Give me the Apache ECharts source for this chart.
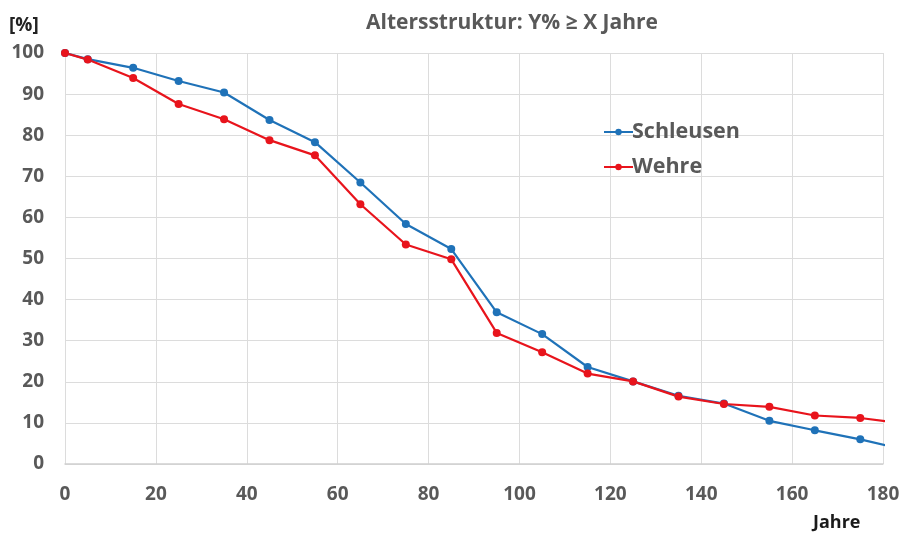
<!DOCTYPE html>
<html>
<head>
<meta charset="utf-8">
<script src="https://cdn.jsdelivr.net/npm/echarts@6/dist/echarts.min.js"></script>
<style>
  html, body { margin: 0; padding: 0; background: #fff; }
  #chart { width: 904px; height: 534px; }
</style>
</head>
<body>
<div id="chart"></div>
<script>
// Alter in Jahren (x) und Anteil in % (y)
const jahre = [0, 5, 15, 25, 35, 45, 55, 65, 75, 85, 95, 105, 115, 125, 135, 145, 155, 165, 175, 185];
const schleusen = [100, 98.5, 96.4, 93.2, 90.4, 83.7, 78.3, 68.5, 58.4, 52.3, 36.9, 31.6, 23.6, 20.1, 16.6, 14.7, 10.5, 8.2, 6.0, 3.4];
const wehre = [100, 98.4, 93.9, 87.6, 83.9, 78.8, 75.1, 63.2, 53.4, 49.8, 31.9, 27.2, 22.0, 20.1, 16.4, 14.6, 13.9, 11.8, 11.2, 9.8];

const grey = "#595959";
const font = "'Open Sans', 'Liberation Sans', sans-serif";

const toPairs = (ys) => jahre.map((x, i) => [x, ys[i]]);

const chart = echarts.init(document.getElementById("chart"));

const option = {
	animation: false,
	backgroundColor: "#fff",
	title: {
		text: "Altersstruktur: Y% \u2265 X Jahre",
		left: 507,
		textAlign: "center",
		top: 8,
		textStyle: {color: grey, fontFamily: font, fontWeight: "bold", fontSize: 21},
	},
	legend: {
		orient: "vertical",
		left: 598,
		top: 116,
		itemWidth: 29,
		itemHeight: 8,
		itemGap: 13,
		textStyle: {color: grey, fontFamily: font, fontWeight: "bold", fontSize: 21.5, padding: [0, 0, 0, -6]},
		data: ["Schleusen", "Wehre"],
	},
	graphic: [
		{
			type: "text",
			left: 9,
			top: 16,
			style: {text: "[%]", fill: "#222", font: "bold 19px " + font},
		},
		{
			type: "text",
			left: 813,
			top: 514,
			style: {text: "Jahre", fill: "#1a1a1a", font: "bold 18px " + font},
		},
	],
	grid: {left: 65, right: 21, top: 53, bottom: 70},
	xAxis: {
		type: "value",
		min: 0,
		max: 180,
		interval: 20,
		axisLine: {show: true, onZero: false, lineStyle: {color: "#d0d0d0", width: 1.5}},
		axisTick: {show: false},
		axisLabel: {color: grey, fontFamily: font, fontWeight: "bold", fontSize: 19, margin: 21},
		splitLine: {show: true, lineStyle: {color: "#dcdcdc", width: 1}},
	},
	yAxis: {
		type: "value",
		min: 0,
		max: 100,
		interval: 10,
		axisLine: {show: false},
		axisTick: {show: false},
		axisLabel: {color: grey, fontFamily: font, fontWeight: "bold", fontSize: 19, margin: 21},
		splitLine: {show: true, lineStyle: {color: "#dcdcdc", width: 1}},
	},
	series: [
		{
			name: "Schleusen",
			type: "line",
			clip: true,
			data: toPairs(schleusen),
			symbol: "circle",
			symbolSize: 8,
			itemStyle: {color: "#1f72b8"},
			lineStyle: {color: "#1f72b8", width: 2.2},
		},
		{
			name: "Wehre",
			type: "line",
			clip: true,
			data: toPairs(wehre),
			symbol: "circle",
			symbolSize: 8,
			itemStyle: {color: "#e8141c"},
			lineStyle: {color: "#e8141c", width: 2.2},
		},
	],
};

chart.setOption(option);
</script>
</body>
</html>
